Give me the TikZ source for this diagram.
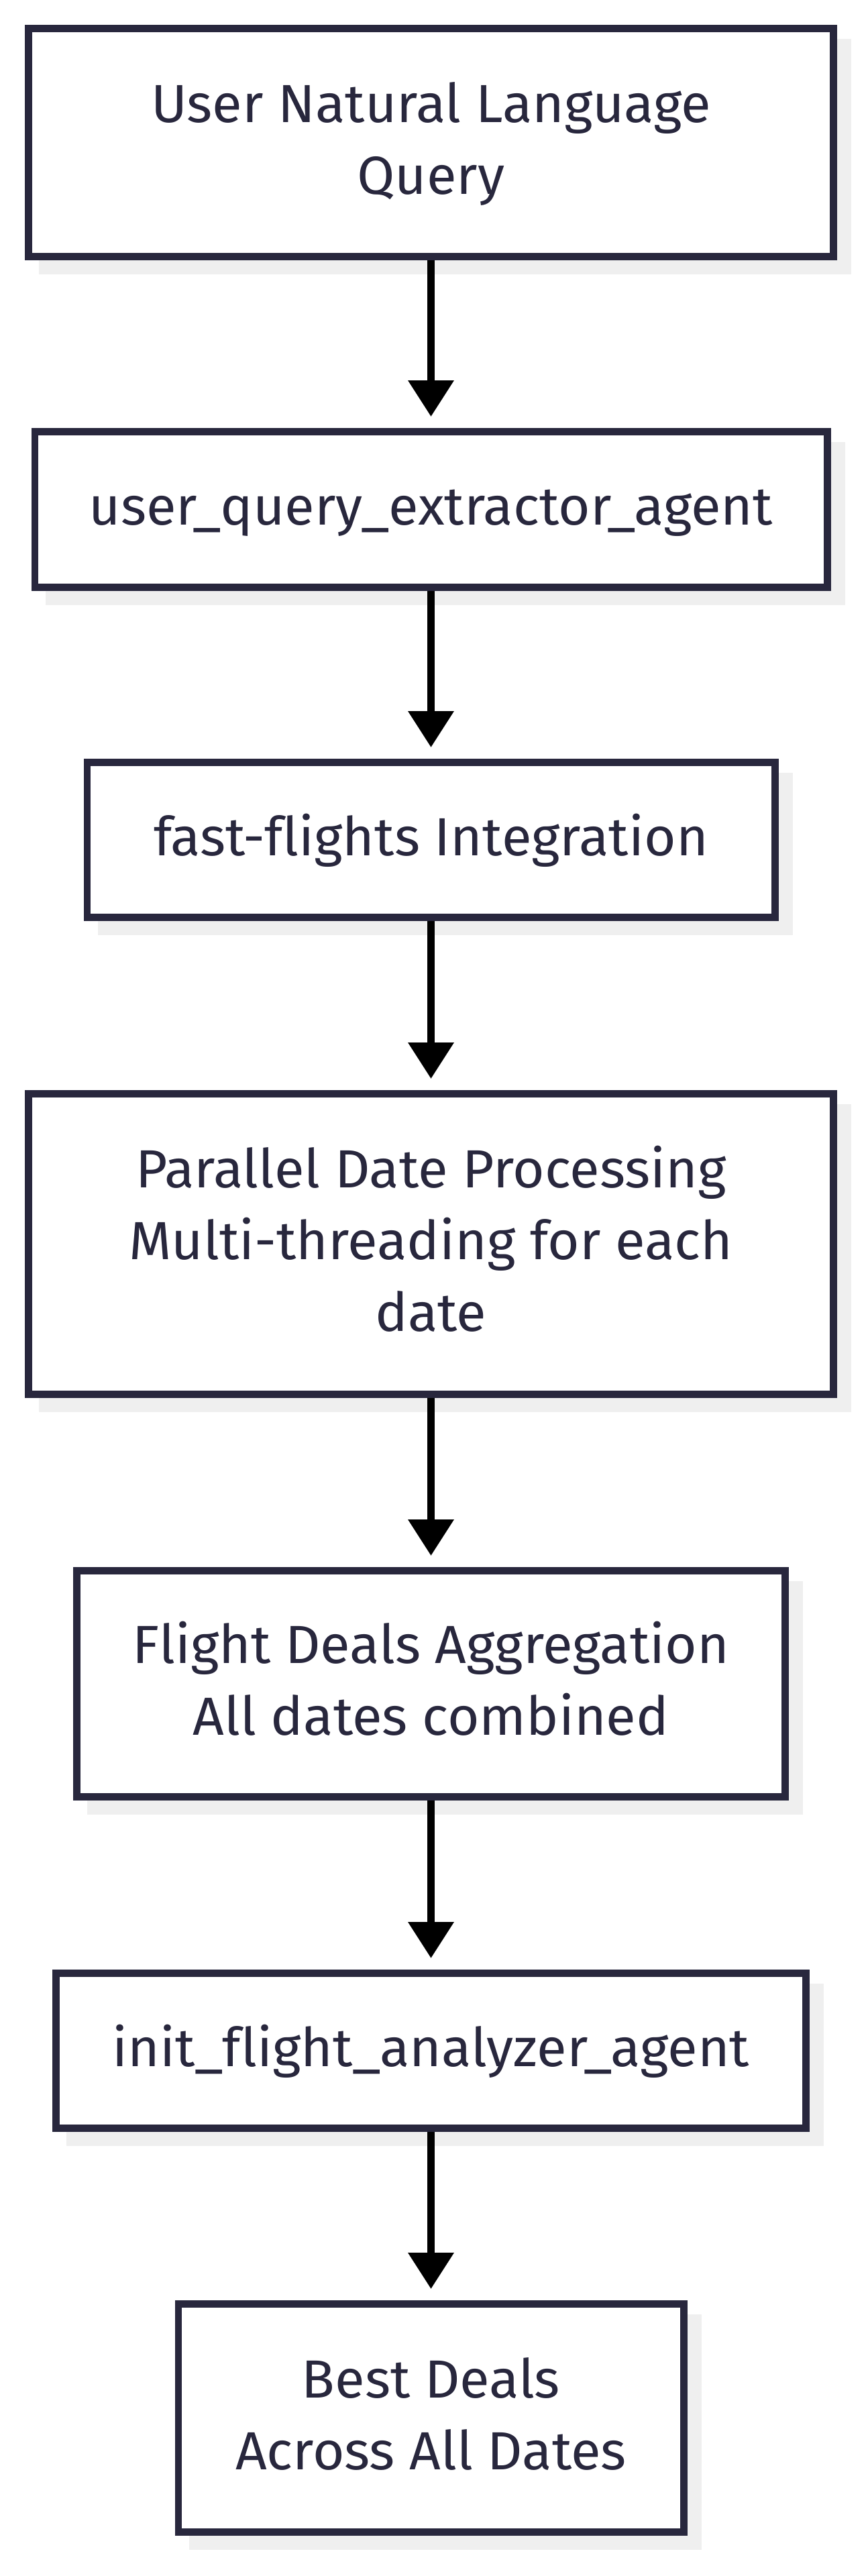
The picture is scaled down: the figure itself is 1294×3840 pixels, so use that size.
\documentclass[tikz,border=0pt]{standalone}
\usepackage{fontspec}
\setmainfont[Ligatures=NoCommon,FakeStretch=1.02]{Fira Sans}
\usetikzlibrary{arrows.meta,backgrounds}
\definecolor{ink}{RGB}{40,39,61}
\definecolor{shadowc}{RGB}{239,239,239}
\newcommand\ls{\rule[-15.25pt]{0pt}{53.5pt}}
\tikzset{
  box/.style={draw=ink, line width=5.3pt, fill=white, inner sep=0pt, align=center,
    text=ink, font=\fontsize{40}{53.5}\selectfont},
  conn/.style={draw=black, line width=5.3pt, -{Triangle[width=33pt,length=27pt]}, shorten >=8.5pt},
  shade/.style={fill=shadowc},
}
\begin{document}
\begin{tikzpicture}[x=0.5pt,y=-0.5pt]
\useasboundingbox (0,0) rectangle (1294,3840);
\node[box, minimum width=600.2pt, minimum height=170.2pt] (b1) at (642.5,212.5) {\ls User Natural Language\\\ls Query};
\node[box, minimum width=590.7pt, minimum height=116.2pt] (b2) at (642.5,759.5) {\ls user\_query\_extractor\_agent};
\node[box, minimum width=512.7pt, minimum height=115.7pt] (b3) at (642.5,1252) {\ls fast-flights Integration};
\node[box, minimum width=600.2pt, minimum height=224.2pt] (b4) at (642.5,1854.5) {\ls Parallel Date Processing\\\ls Multi-threading for each\\\ls date};
\node[box, minimum width=528.2pt, minimum height=168.7pt] (b5) at (642.5,2510) {\ls Flight Deals Aggregation\\\ls All dates combined};
\node[box, minimum width=559.2pt, minimum height=115.7pt] (b6) at (642.5,3057) {\ls init\_flight\_analyzer\_agent};
\node[box, minimum width=376.7pt, minimum height=170.2pt] (b7) at (642.5,3604.5) {\ls Best Deals\\\ls Across All Dates};
\begin{scope}[on background layer]
  \fill[white] (0,0) rectangle (1294,3840);
  \foreach \n in {b1,b2,b3,b4,b5,b6,b7}
    \fill[shade] ([shift={(21,21)}]\n.north west) rectangle ([shift={(21,21)}]\n.south east);
\end{scope}
\draw[conn] (b1) -- (b2);
\draw[conn] (b2) -- (b3);
\draw[conn] (b3) -- (b4);
\draw[conn] (b4) -- (b5);
\draw[conn] (b5) -- (b6);
\draw[conn] (b6) -- (b7);
\end{tikzpicture}
\end{document}
